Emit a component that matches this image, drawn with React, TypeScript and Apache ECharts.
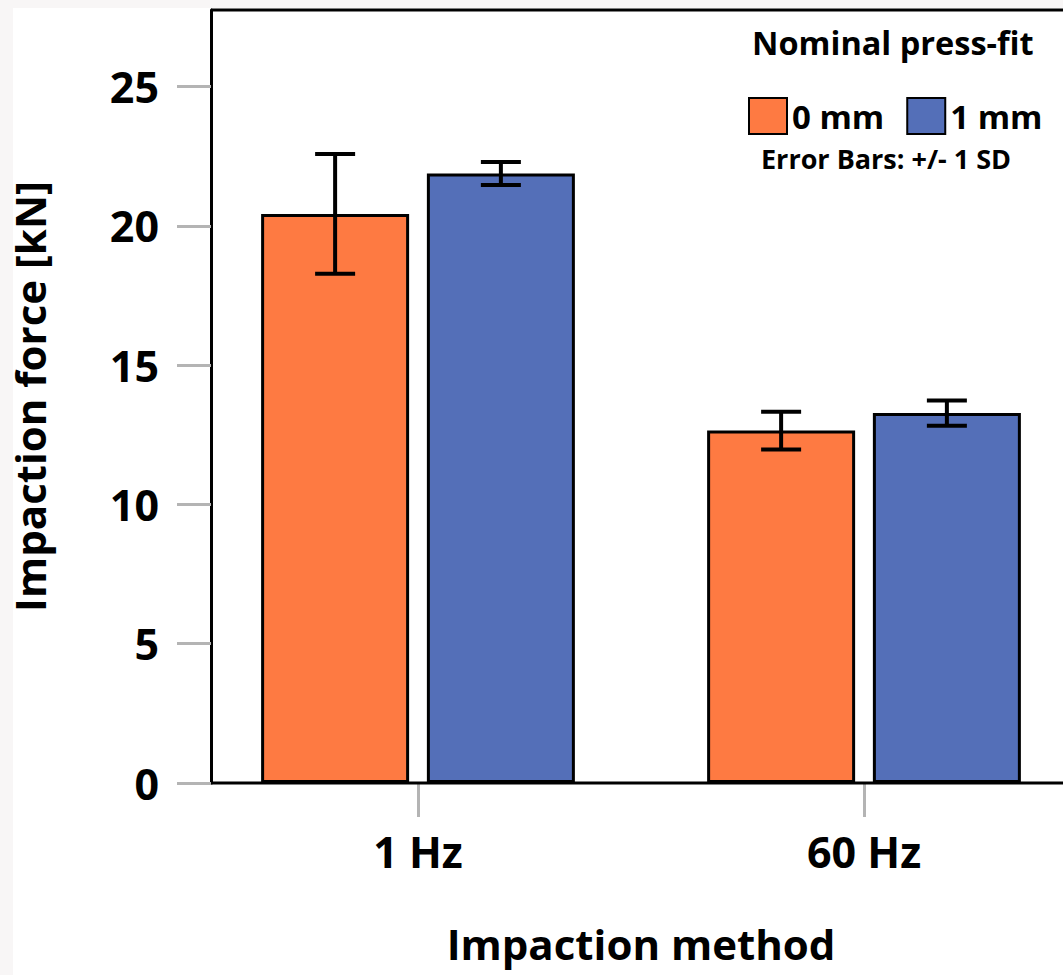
import React, { useEffect, useRef } from "react";
import * as echarts from "echarts";

const categories = ["1 Hz", "60 Hz"];
const seriesNames = ["0 mm", "1 mm"];
const meanZero = [20.43, 12.65];
const sdZero = [2.15, 0.68];
const meanOne = [21.88, 13.28];
const sdOne = [0.41, 0.455];
const yTicks = [0, 5, 10, 15, 20, 25];
const yMax = 27.75;

const ORANGE = "#FE7A42";
const BLUE = "#546FB8";
const FONT = "'Open Sans', 'Noto Sans', sans-serif";
const BAR_W = 148;
const BAR_GAP = 0.12;

function errorSeries(name: string, means: number[], sds: number[], sign: number) {
  return {
    type: "custom",
    name: name + " SD",
    z: 5,
    encode: { x: 0, y: [1, 2] },
    data: means.map((m, i) => [i, m - sds[i], m + sds[i]]),
    renderItem: (params: any, api: any) => {
      const idx = api.value(0);
      const lo = api.coord([idx, api.value(1)]);
      const hi = api.coord([idx, api.value(2)]);
      const off = (sign * BAR_W * (1 + BAR_GAP)) / 2;
      const x = lo[0] + off;
      const half = 20;
      const st = { stroke: "#000", lineWidth: 4 };
      return {
        type: "group",
        children: [
          { type: "line", shape: { x1: x, y1: lo[1], x2: x, y2: hi[1] }, style: st },
          { type: "line", shape: { x1: x - half, y1: lo[1], x2: x + half, y2: lo[1] }, style: st },
          { type: "line", shape: { x1: x - half, y1: hi[1], x2: x + half, y2: hi[1] }, style: st },
        ],
      };
    },
  };
}

export default function App() {
  const ref = useRef<HTMLDivElement>(null);
  useEffect(() => {
    if (!ref.current) return;
    const chart = echarts.init(ref.current, null, { renderer: "svg" });
    chart.setOption({
      animation: false,
      backgroundColor: "#ffffff",
      textStyle: { fontFamily: FONT },
      grid: { left: 195, top: 10, width: 892, height: 773, outerBoundsMode: "none", containLabel: false },
      legend: {
        data: seriesNames,
        left: 743,
        top: 92,
        icon: "rect",
        itemWidth: 38,
        itemHeight: 36,
        itemGap: 22,
        textStyle: { fontSize: 33, fontWeight: "bold", color: "#000", fontFamily: FONT, padding: [0, 0, 0, 0] },
      },
      xAxis: {
        type: "category",
        data: categories,
        axisLine: { show: false },
        axisTick: { show: true, alignWithLabel: true, length: 34, lineStyle: { color: "#b4b4b4", width: 3 } },
        axisLabel: { fontSize: 43, fontWeight: "bold", color: "#000", margin: 47, fontFamily: FONT },
        name: "Impaction method",
        nameLocation: "middle",
        nameGap: 139,
        nameTextStyle: { fontSize: 42, fontWeight: "bold", color: "#000", fontFamily: FONT },
      },
      yAxis: {
        type: "value",
        min: 0,
        max: yMax,
        interval: 5,
        offset: -16,
        splitLine: { show: false },
        axisLine: { show: true, lineStyle: { color: "#000", width: 3 } },
        axisTick: { show: true, length: 34, customValues: yTicks, lineStyle: { color: "#b4b4b4", width: 3 } },
        axisLabel: { fontSize: 43, fontWeight: "bold", color: "#000", margin: 52, customValues: yTicks, fontFamily: FONT },
        name: "Impaction force [kN]",
        nameLocation: "middle",
        nameGap: 161,
        nameTextStyle: { fontSize: 42, fontWeight: "bold", color: "#000", fontFamily: FONT },
      },
      graphic: [
        { type: "rect", left: 0, top: 0, shape: { width: 13, height: 975 }, style: { fill: "#f8f6f6" }, z: -10 },
        { type: "rect", left: 0, top: 0, shape: { width: 1063, height: 8 }, style: { fill: "#f8f6f6" }, z: -10 },
        { type: "line", shape: { x1: 211, y1: 10, x2: 1063, y2: 10 }, style: { stroke: "#000", lineWidth: 3 }, z: 10 },
        { type: "line", shape: { x1: 211, y1: 783, x2: 1063, y2: 783 }, style: { stroke: "#000", lineWidth: 3 }, z: 10 },
        {
          type: "text",
          left: 752,
          top: 26,
          style: { text: "Nominal press-fit", fontSize: 32.5, fontWeight: "bold", fill: "#000", fontFamily: FONT },
        },
        {
          type: "text",
          left: 761,
          top: 145,
          style: { text: "Error Bars: +/- 1 SD", fontSize: 27, fontWeight: "bold", fill: "#000", fontFamily: FONT },
        },
      ],
      series: [
        {
          type: "bar",
          name: seriesNames[0],
          data: meanZero,
          barWidth: BAR_W,
          barGap: BAR_GAP * 100 + "%",
          itemStyle: { color: ORANGE, borderColor: "#000", borderWidth: 3 },
        },
        {
          type: "bar",
          name: seriesNames[1],
          data: meanOne,
          barWidth: BAR_W,
          barGap: BAR_GAP * 100 + "%",
          itemStyle: { color: BLUE, borderColor: "#000", borderWidth: 3 },
        },
        errorSeries(seriesNames[0], meanZero, sdZero, -1),
        errorSeries(seriesNames[1], meanOne, sdOne, 1),
      ],
    });
    return () => chart.dispose();
  }, []);
  return <div ref={ref} style={{ position: "fixed", left: 0, top: 0, width: 1063, height: 975 }} />;
}
